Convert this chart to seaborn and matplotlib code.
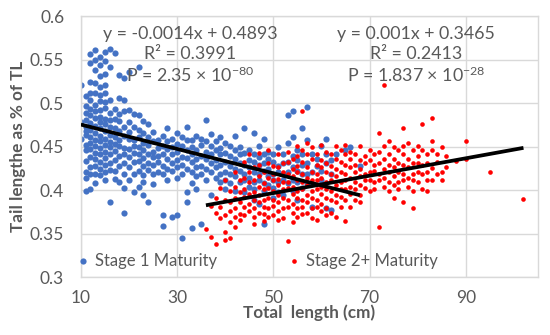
import numpy as np
import pandas as pd
import matplotlib
matplotlib.use("Agg")
import matplotlib.pyplot as plt
import seaborn as sns
from matplotlib.ticker import FuncFormatter, MultipleLocator

# ---------------- Data ----------------

# Stage 1 maturity: total length (cm) and the tail ratios seen at that length
stage1_cm = [10, 11, 12, 13, 14, 15, 16, 17, 18, 19, 20, 21, 22, 23, 24, 25,
             26, 27, 28, 29, 30, 31, 32, 33, 34, 35, 36, 37, 38, 39, 40, 41,
             42, 43, 44, 45, 46, 47, 48, 49, 50, 51, 52, 53, 54, 55, 56, 57,
             58, 59, 60, 61, 62, 63, 65, 66, 68]
stage1_tail = [
    [0.521, 0.459, 0.478],
    [0.508, 0.497, 0.489, 0.481, 0.472, 0.463, 0.452, 0.446, 0.433, 0.421, 0.414, 0.399, 0.468],
    [0.556, 0.546, 0.524, 0.512, 0.503, 0.493, 0.486, 0.477, 0.469, 0.461, 0.454, 0.447, 0.438, 0.427, 0.418, 0.401],
    [0.561, 0.549, 0.538, 0.523, 0.511, 0.498, 0.491, 0.483, 0.474, 0.466, 0.458, 0.451, 0.443, 0.436, 0.428, 0.419, 0.408],
    [0.553, 0.544, 0.531, 0.518, 0.509, 0.502, 0.492, 0.484, 0.478, 0.471, 0.462, 0.456, 0.448, 0.441, 0.432, 0.424, 0.417],
    [0.559, 0.548, 0.533, 0.521, 0.512, 0.501, 0.494, 0.482, 0.476, 0.468, 0.459, 0.452, 0.444, 0.437, 0.429, 0.421, 0.412],
    [0.562, 0.541, 0.504, 0.489, 0.481, 0.473, 0.463, 0.455, 0.449, 0.442, 0.431, 0.423, 0.386],
    [0.558, 0.493, 0.482, 0.471, 0.461, 0.453, 0.445, 0.434, 0.422, 0.413],
    [0.532, 0.506, 0.488, 0.479, 0.468, 0.457, 0.451, 0.439, 0.428, 0.409],
    [0.529, 0.504, 0.491, 0.473, 0.462, 0.448, 0.442, 0.431, 0.418, 0.402, 0.374],
    [0.536, 0.492, 0.478, 0.467, 0.459, 0.447, 0.438, 0.427, 0.411],
    [0.488, 0.472, 0.458, 0.451, 0.443, 0.432, 0.419, 0.398],
    [0.541, 0.486, 0.469, 0.461, 0.449, 0.441, 0.433, 0.422, 0.403],
    [0.479, 0.466, 0.454, 0.446, 0.437, 0.428, 0.417, 0.409, 0.394],
    [0.476, 0.461, 0.452, 0.441, 0.431, 0.423, 0.386],
    [0.467, 0.456, 0.444, 0.438, 0.429, 0.418, 0.407],
    [0.457, 0.448, 0.439, 0.432, 0.421],
    [0.462, 0.451, 0.442, 0.428, 0.418, 0.371, 0.359],
    [0.471, 0.456, 0.447, 0.436, 0.424, 0.411],
    [0.459, 0.449, 0.441, 0.431, 0.422, 0.369],
    [0.466, 0.453, 0.444, 0.434, 0.426, 0.414, 0.371],
    [0.461, 0.451, 0.438, 0.429, 0.419, 0.345],
    [0.472, 0.457, 0.446, 0.437, 0.424, 0.398, 0.386],
    [0.458, 0.449, 0.442, 0.432, 0.421, 0.408, 0.356],
    [0.462, 0.446, 0.436, 0.426, 0.416, 0.401],
    [0.459, 0.452, 0.439, 0.428, 0.418, 0.361],
    [0.481, 0.456, 0.444, 0.436, 0.424, 0.411],
    [0.464, 0.451, 0.441, 0.431, 0.421, 0.394],
    [0.456, 0.446, 0.434, 0.426, 0.414],
    [0.461, 0.448, 0.442, 0.429, 0.419, 0.409],
    [0.454, 0.443, 0.432, 0.421, 0.411, 0.401],
    [0.451, 0.439, 0.428, 0.419, 0.408],
    [0.462, 0.446, 0.436, 0.424, 0.416, 0.399],
    [0.449, 0.441, 0.431, 0.422, 0.409],
    [0.471, 0.443, 0.429, 0.418, 0.412, 0.398],
    [0.446, 0.434, 0.426, 0.414, 0.404],
    [0.466, 0.441, 0.432, 0.421, 0.409, 0.401, 0.389],
    [0.451, 0.438, 0.429, 0.419, 0.411, 0.384],
    [0.459, 0.442, 0.431, 0.422, 0.408, 0.399, 0.361],
    [0.444, 0.436, 0.424, 0.416, 0.406],
    [0.441, 0.432, 0.419, 0.411, 0.402, 0.391],
    [0.449, 0.428, 0.421, 0.409, 0.398],
    [0.442, 0.431, 0.418, 0.412, 0.394],
    [0.486, 0.454, 0.432, 0.421, 0.408],
    [0.491, 0.461, 0.439, 0.426, 0.411, 0.399],
    [0.446, 0.434, 0.422, 0.409, 0.388],
    [0.471, 0.441, 0.429, 0.418, 0.402],
    [0.496, 0.457, 0.431, 0.419, 0.408],
    [0.442, 0.421, 0.381],
    [0.436, 0.428],
    [0.451, 0.422, 0.411],
    [0.459, 0.441, 0.431, 0.379],
    [0.434, 0.419, 0.377],
    [0.442],
    [0.446],
    [0.449],
    [0.428],
]

# Stage 2+ maturity
stage2_cm = [36, 37, 38, 39, 40, 41, 42, 43, 44, 45, 46, 47, 48, 49, 50, 51,
             52, 53, 54, 55, 56, 57, 58, 59, 60, 61, 62, 63, 64, 65, 66, 67,
             68, 69, 70, 71, 72, 73, 74, 75, 76, 77, 78, 79, 80, 81, 82, 83,
             84, 85, 86, 88, 90, 95, 102]
stage2_tail = [
    [0.355],
    [0.382, 0.346],
    [0.391, 0.374, 0.338],
    [0.402, 0.381, 0.368],
    [0.412, 0.389, 0.371, 0.352, 0.343],
    [0.399, 0.386, 0.376, 0.363, 0.345],
    [0.421, 0.403, 0.391, 0.379, 0.369, 0.358],
    [0.411, 0.398, 0.386, 0.373, 0.366],
    [0.432, 0.414, 0.401, 0.392, 0.381, 0.371],
    [0.441, 0.421, 0.409, 0.396, 0.384, 0.376],
    [0.426, 0.412, 0.398, 0.388, 0.379, 0.369, 0.361],
    [0.443, 0.429, 0.416, 0.404, 0.394, 0.386, 0.374],
    [0.421, 0.408, 0.401, 0.389, 0.381, 0.372, 0.364],
    [0.446, 0.431, 0.414, 0.402, 0.391, 0.379, 0.369],
    [0.428, 0.419, 0.411, 0.399, 0.388, 0.382, 0.371],
    [0.441, 0.426, 0.413, 0.406, 0.394, 0.386, 0.376, 0.366],
    [0.431, 0.421, 0.409, 0.401, 0.391, 0.379, 0.368],
    [0.444, 0.432, 0.418, 0.409, 0.402, 0.389, 0.381, 0.341],
    [0.436, 0.424, 0.416, 0.404, 0.396, 0.384, 0.374, 0.363],
    [0.451, 0.439, 0.428, 0.421, 0.411, 0.399, 0.391, 0.379, 0.369],
    [0.491, 0.446, 0.432, 0.419, 0.409, 0.401, 0.388, 0.381, 0.372],
    [0.454, 0.441, 0.426, 0.414, 0.406, 0.394, 0.386, 0.374],
    [0.449, 0.436, 0.421, 0.411, 0.399, 0.391, 0.379, 0.368],
    [0.441, 0.429, 0.419, 0.412, 0.401, 0.388, 0.381, 0.366],
    [0.452, 0.434, 0.426, 0.414, 0.404, 0.396, 0.384, 0.376],
    [0.444, 0.431, 0.421, 0.409, 0.401, 0.391, 0.379, 0.371],
    [0.441, 0.428, 0.419, 0.411, 0.399, 0.389, 0.374],
    [0.451, 0.436, 0.424, 0.416, 0.406, 0.394, 0.386, 0.369],
    [0.446, 0.432, 0.421, 0.409, 0.401, 0.392, 0.381],
    [0.452, 0.441, 0.429, 0.419, 0.411, 0.401, 0.389, 0.364],
    [0.444, 0.436, 0.426, 0.414, 0.404, 0.396, 0.381],
    [0.441, 0.429, 0.421, 0.409, 0.401, 0.389],
    [0.451, 0.434, 0.424, 0.416, 0.406, 0.394, 0.386],
    [0.439, 0.431, 0.419, 0.411, 0.402],
    [0.446, 0.434, 0.421, 0.412, 0.399],
    [0.441, 0.429, 0.422, 0.409, 0.401],
    [0.466, 0.444, 0.431, 0.419, 0.411, 0.358],
    [0.521, 0.451, 0.436, 0.424, 0.414, 0.404],
    [0.456, 0.441, 0.429, 0.421, 0.409, 0.399],
    [0.449, 0.436, 0.426, 0.416, 0.406, 0.391],
    [0.446, 0.431, 0.421, 0.409, 0.401],
    [0.471, 0.451, 0.441, 0.429, 0.419, 0.411, 0.386],
    [0.454, 0.436, 0.426, 0.414, 0.404],
    [0.446, 0.431, 0.419, 0.411, 0.399, 0.379],
    [0.451, 0.439, 0.431, 0.421, 0.409],
    [0.476, 0.446, 0.429, 0.419, 0.401],
    [0.441, 0.431, 0.421, 0.412, 0.399],
    [0.483, 0.456, 0.446, 0.425, 0.411],
    [0.441, 0.432, 0.419],
    [0.449, 0.421, 0.412],
    [0.439, 0.426],
    [0.433],
    [0.456, 0.436],
    [0.421],
    [0.39],
]

# trendline coefficients (slope, intercept) shown on the chart
stage1_fit = [-0.0014, 0.4893]
stage2_fit = [0.001, 0.3465]

stage1_label = "Stage 1 Maturity"
stage2_label = "Stage 2+ Maturity"


def expand(cm, tails):
    rows = [(x, y) for x, ys in zip(cm, tails) for y in ys]
    return pd.DataFrame(rows, columns=["length", "tail"])


df1 = expand(stage1_cm, stage1_tail)
df2 = expand(stage2_cm, stage2_tail)

# ---------------- Plot ----------------

sns.set_style("white")
plt.rcParams["font.family"] = ["Lato", "DejaVu Sans"]
plt.rcParams["mathtext.default"] = "regular"

grey = "#595959"
blue = "#4472C4"
red = "#FF0000"

fig = plt.figure(figsize=(5.5, 3.35), dpi=100)
ax = fig.add_axes([0.147, 0.173, 0.831, 0.779])

sns.scatterplot(data=df1, x="length", y="tail", ax=ax, color=blue, s=20,
                linewidth=0, label=stage1_label, zorder=2)
sns.scatterplot(data=df2, x="length", y="tail", ax=ax, color=red, s=11,
                linewidth=0, label=stage2_label, zorder=3)

for d, fit in [(df1, stage1_fit), (df2, stage2_fit)]:
    xs = np.array([d["length"].min(), d["length"].max()])
    ax.plot(xs, fit[0] * xs + fit[1], color="black", lw=2.7, zorder=4,
            solid_capstyle="butt")

ax.set_xlim(10, 105)
ax.set_ylim(0.3, 0.6)
ax.set_xticks([10, 30, 50, 70, 90])
ax.yaxis.set_major_locator(MultipleLocator(0.05))
ax.yaxis.set_major_formatter(FuncFormatter(lambda v, p: f"{v:g}"))
ax.grid(True, color="#D9D9D9", lw=1)
ax.set_axisbelow(True)
for sp in ax.spines.values():
    sp.set_color("#D9D9D9")
    sp.set_linewidth(1)
ax.tick_params(axis="y", length=0, labelsize=12.5, colors=grey, pad=12)
ax.tick_params(axis="x", length=0, labelsize=12.5, colors=grey, pad=9)

ax.set_xlabel("Total  length (cm)", fontsize=12.3, fontweight="bold",
              color=grey, labelpad=-1)
ax.set_ylabel("Tail lengthe as % of TL", fontsize=12.3, fontweight="bold",
              color=grey, labelpad=3)

txt = dict(ha="center", va="center", fontsize=12.8, color=grey, zorder=5)
ax.text(32.8, 0.579, "y = -0.0014x + 0.4893", **txt)
ax.text(32.8, 0.556, "R² = 0.3991", **txt)
ax.text(32.8, 0.532, r"P = 2.35 × 10$^{-80}$", **txt)
ax.text(79.7, 0.579, "y = 0.001x + 0.3465", **txt)
ax.text(79.7, 0.556, "R² = 0.2413", **txt)
ax.text(79.7, 0.532, r"P = 1.837 × 10$^{-28}$", **txt)

leg = ax.legend(ncol=2, loc="lower left", bbox_to_anchor=(-0.04, -0.025),
                frameon=False, fontsize=12, handlelength=0.6,
                handletextpad=0.45, columnspacing=4.3, markerscale=1.0)
for t in leg.get_texts():
    t.set_color(grey)

fig.savefig("out.png", dpi=100)
